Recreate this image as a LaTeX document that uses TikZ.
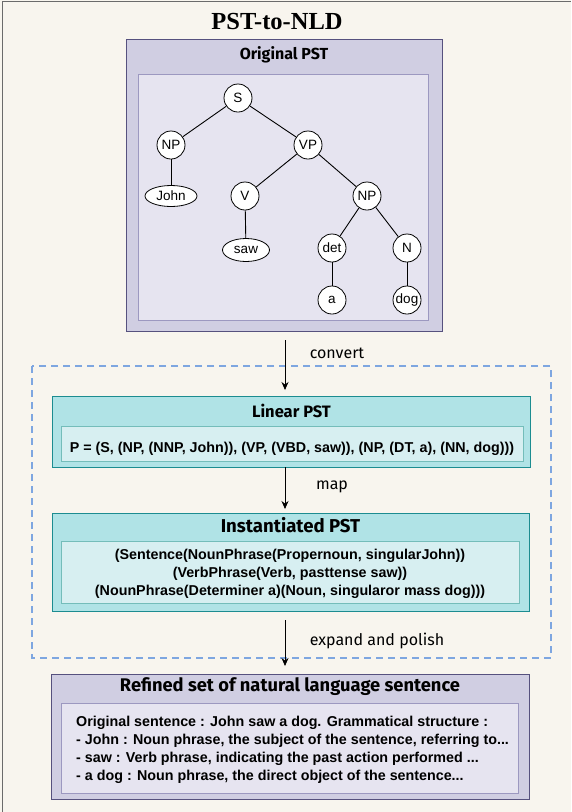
\documentclass[tikz,border=0pt]{standalone}
\usepackage{fontspec}
\setmainfont{Liberation Sans}
\newfontfamily\titlefont{Liberation Serif}
\newfontfamily\headfont{Fira Sans}
\usetikzlibrary{arrows.meta,shapes.geometric}
\definecolor{bgc}{HTML}{F8F5EE}
\definecolor{framec}{HTML}{6B6B6B}
\definecolor{pfill}{HTML}{D0CEE2}
\definecolor{pdraw}{HTML}{56517E}
\definecolor{pinfill}{HTML}{E6E4F0}
\definecolor{pindraw}{HTML}{9C98C0}
\definecolor{tfill}{HTML}{B0E3E6}
\definecolor{tdraw}{HTML}{1C8C90}
\definecolor{tinfill}{HTML}{D7EFF1}
\definecolor{tindraw}{HTML}{74BDBA}
\definecolor{dashc}{HTML}{7EA6E0}
\tikzset{
  pbox/.style={fill=pfill,draw=pdraw,line width=1pt},
  pinbox/.style={fill=pinfill,draw=pindraw,line width=1pt},
  tbox/.style={fill=tfill,draw=tdraw,line width=1pt},
  tinbox/.style={fill=tinfill,draw=tindraw,line width=1pt},
  heading/.style={font=\headfont\bfseries\fontsize{16}{18}\selectfont,inner sep=0pt},
  bigheading/.style={font=\headfont\bfseries\fontsize{18.3}{20}\selectfont,inner sep=0pt},
  body/.style={font=\bfseries\fontsize{14.3}{18.2}\selectfont,inner sep=0pt},
  tnode/.style={circle,draw=black,fill=white,line width=0.8pt,minimum size=28pt,inner sep=0pt,font=\fontsize{13.5}{15}\selectfont},
  tleaf/.style={ellipse,draw=black,fill=white,line width=0.8pt,inner sep=0pt,font=\fontsize{13.5}{15}\selectfont},
  tedge/.style={line width=0.9pt},
  flow/.style={-{Stealth[length=8pt,width=7pt]},line width=0.8pt},
  flowlabel/.style={font=\headfont\fontsize{16}{18}\selectfont,inner sep=0pt},
}
\begin{document}
\begin{tikzpicture}[x=1pt,y=-1pt]
\useasboundingbox (0,0) rectangle (571,812);
\fill[bgc] (0,0) rectangle (571,812);
\draw[framec,line width=1.6pt] (2.5,812) -- (2.5,1.5) -- (571,1.5);
\node[font=\titlefont\bfseries\fontsize{24.5}{26}\selectfont,inner sep=0pt] (title) at (277,22) {PST-to-NLD};

% Original PST
\draw[pbox] (126,39) rectangle (442,331);
\node[heading] (origtitle) at (284,55) {Original PST};
\draw[pinbox] (138,74) rectangle (428,320);
\node[tnode] (S) at (238,98) {S};
\node[tnode] (NPa) at (171,145) {NP};
\node[tnode] (VP) at (308,145) {VP};
\node[tleaf,minimum width=52pt,minimum height=21pt] (John) at (171,196) {John};
\node[tnode] (V) at (245,196) {V};
\node[tnode] (NPb) at (367,196) {NP};
\node[tleaf,minimum width=47pt,minimum height=23pt] (saw) at (246,250) {saw};
\node[tnode] (det) at (332,248) {det};
\node[tnode] (N) at (407,248) {N};
\node[tnode] (a) at (332,300) {a};
\node[tnode] (dog) at (407,300) {dog};
\draw[tedge] (S) -- (NPa);
\draw[tedge] (S) -- (VP);
\draw[tedge] (NPa) -- (John);
\draw[tedge] (VP) -- (V);
\draw[tedge] (VP) -- (NPb);
\draw[tedge] (V) -- (saw);
\draw[tedge] (NPb) -- (det);
\draw[tedge] (NPb) -- (N);
\draw[tedge] (det) -- (a);
\draw[tedge] (N) -- (dog);
\coordinate (origbottom) at (285,340);

% dashed group
\draw[dashc,line width=2pt,dash pattern=on 7pt off 5pt] (32,366) rectangle (551,658);

% Linear PST
\node[tbox,minimum width=478pt,minimum height=71pt,inner sep=0pt] (linear) at (291.5,431.5) {};
\node[heading,font=\headfont\bfseries\fontsize{16.5}{18}\selectfont] (lintitle) at (291.5,411) {Linear PST};
\draw[tinbox] (61,426) rectangle (523,461.5);
\node[body] (lintext) at (292,448.5) {P = (S, (NP, (NNP, John)), (VP, (VBD, saw)), (NP, (DT, a), (NN, dog)))};
\draw[flow] (origbottom) -- (285,390);
\node[flowlabel] (convert) at (337,353) {convert};

% Instantiated PST
\node[tbox,minimum width=477pt,minimum height=98pt,inner sep=0pt] (inst) at (290.5,562) {};
\node[bigheading,font=\headfont\bfseries\fontsize{18.6}{20}\selectfont] (insttitle) at (290.5,525) {Instantiated PST};
\draw[tinbox] (61,541.5) rectangle (519.5,603.5);
\node[body,align=center] (insttext) at (290,574) {(Sentence(NounPhrase(Propernoun, singularJohn))\\(VerbPhrase(Verb, pasttense saw))\\(NounPhrase(Determiner a)(Noun, singularor mass dog)))};
\draw[flow] (285,467) -- (285,509);
\node[flowlabel] (map) at (332,486.5) {map};

% Refined
\draw[pbox] (51,674) rectangle (529.5,799);
\node[bigheading] (reftitle) at (290,686.5) {Refined set of natural language sentence};
\draw[pinbox] (61.5,703.5) rectangle (518.5,793);
\node[body,align=left,anchor=west] (reftext) at (76,750) {Original sentence : John saw a dog. Grammatical structure :\\- John : Noun phrase, the subject of the sentence, referring to...\\- saw : Verb phrase, indicating the past action performed ...\\- a dog : Noun phrase, the direct object of the sentence...};
\coordinate (instbot) at (285,620);
\draw[flow] (instbot) -- (285,666);
\node[flowlabel] (expand) at (377,641) {expand and polish};
\end{tikzpicture}
\end{document}
